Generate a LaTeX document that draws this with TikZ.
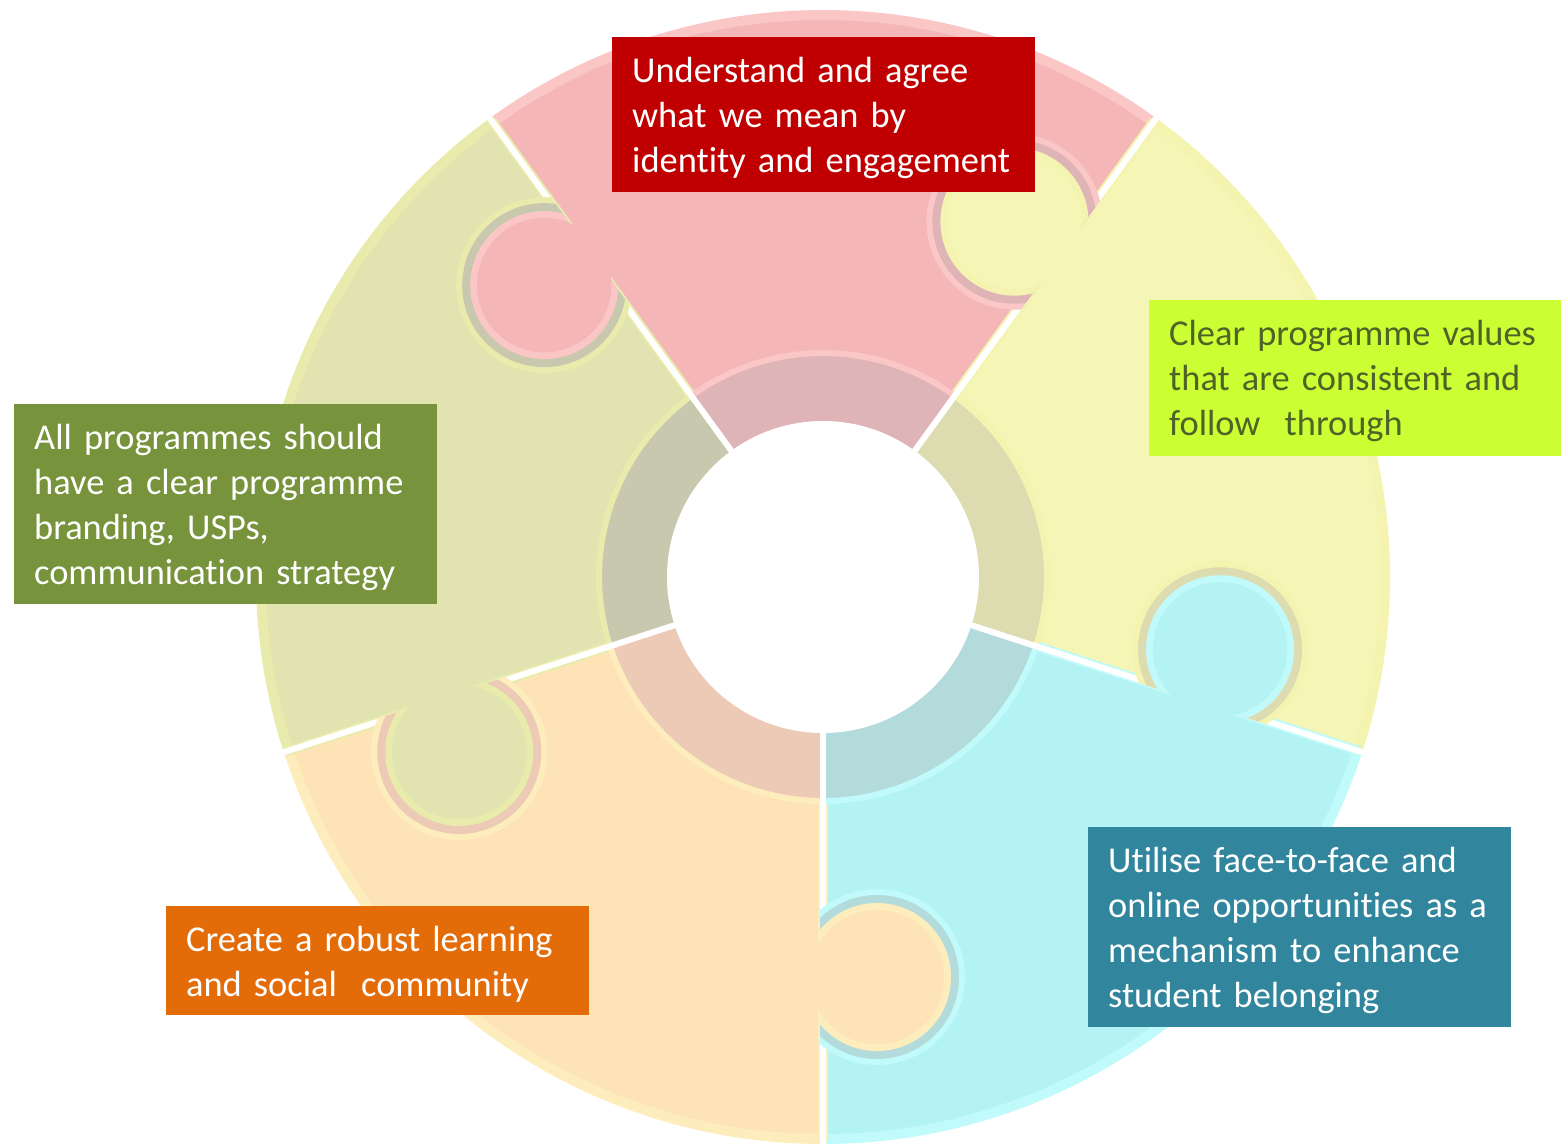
\documentclass[tikz,border=0pt]{standalone}
\usepackage{fontspec}
\setmainfont{Carlito}[Ligatures=NoCommon]
\definecolor{pinkF}{RGB}{244,182,182}
\definecolor{pinkB}{RGB}{250,198,198}
\definecolor{pinkD}{RGB}{222,180,183}
\definecolor{yelF}{RGB}{245,245,182}
\definecolor{yelB}{RGB}{244,244,176}
\definecolor{yelD}{RGB}{221,220,176}
\definecolor{cyaF}{RGB}{180,243,243}
\definecolor{cyaB}{RGB}{192,250,250}
\definecolor{cyaD}{RGB}{180,219,220}
\definecolor{oraF}{RGB}{253,227,182}
\definecolor{oraB}{RGB}{254,237,188}
\definecolor{oraD}{RGB}{236,202,181}
\definecolor{oliF}{RGB}{225,227,176}
\definecolor{oliB}{RGB}{233,235,172}
\definecolor{oliD}{RGB}{200,200,174}
\definecolor{redbox}{RGB}{192,0,0}
\definecolor{limebox}{RGB}{204,255,51}
\definecolor{limetext}{RGB}{79,98,40}
\definecolor{greenbox}{RGB}{119,147,60}
\definecolor{orangebox}{RGB}{227,108,9}
\definecolor{tealbox}{RGB}{49,133,156}
\tikzset{
  boxr/.style={rectangle, inner sep=0pt, anchor=north west},
  txt/.style={anchor=north west, inner sep=0pt, text width=410pt, align=left,
              font=\fontsize{36.4}{45}\selectfont}
}
\begin{document}
\begin{tikzpicture}[x=1pt,y=-1pt]
\useasboundingbox (0,0) rectangle (1561,1144);
\begin{scope}[shift={(823,577)}, y=1pt]
  % pieces
  \foreach \a/\fc/\bc in {54/pinkF/pinkB, -18/yelF/yelB, -90/cyaF/cyaB, 198/oraF/oraB, 126/oliF/oliB} {
    \filldraw[fill=\fc, draw=\bc, line width=10pt, line join=round]
      (\a:150) -- (\a:562) arc[start angle=\a, end angle=\a+72, radius=562]
      -- (\a+72:150) arc[start angle=\a+72, end angle=\a, radius=150] -- cycle;
  }
  % inner darker band
  \foreach \a/\dc/\bc in {54/pinkD/pinkB, -18/yelD/yelB, -90/cyaD/cyaB, 198/oraD/oraB, 126/oliD/oliB} {
    \fill[\dc] (\a:150) -- (\a:224) arc[start angle=\a, end angle=\a+72, radius=224]
      -- (\a+72:150) arc[start angle=\a+72, end angle=\a, radius=150] -- cycle;
    \draw[\bc, line width=6pt] (\a:224) arc[start angle=\a, end angle=\a+72, radius=224];
  }
  % gaps
  \foreach \a in {54,126,198,270,-18} {
    \draw[white, line width=6pt] (0,0) -- (\a:600);
  }
  % knobs and sockets
  \foreach \e/\of/\ob/\hb/\hd in {126/pinkF/pinkB/oliB/oliD, 54/yelF/yelB/pinkB/pinkD,
      -18/cyaF/cyaB/yelB/yelD, 270/oraF/oraB/cyaB/cyaD, 198/oliF/oliB/oraB/oraD} {
    \begin{scope}[rotate=\e]
      \begin{scope}
        \clip (0,-3) rectangle (700,200);
        \fill[\hb] (400,54) circle (88);
        \fill[\hd] (400,54) circle (82);
        \fill[\ob] (400,54) circle (74);
        \fill[\of] (400,54) circle (67);
      \end{scope}
      \fill[\of] (400,54) circle (67);
    \end{scope}
  }
  \fill[white] (0,0) circle (156);
\end{scope}
% text boxes
\node[boxr, fill=redbox, minimum width=423pt, minimum height=155pt] (b1) at (612,37) {};
\node[txt, text=white] (t1) at (632,52) {\rule{0pt}{30pt}Understand and agree\\what we mean by\\identity and engagement};
\node[boxr, fill=limebox, minimum width=412pt, minimum height=156pt] (b2) at (1149,300) {};
\node[txt, text=limetext] (t2) at (1169,315) {\rule{0pt}{30pt}Clear programme values\\that are consistent and\\follow~ through};
\node[boxr, fill=greenbox, minimum width=423pt, minimum height=200pt] (b3) at (14,404) {};
\node[txt, text=white] (t3) at (34,419) {\rule{0pt}{30pt}All programmes should\\have a clear programme\\branding, USPs,\\communication strategy};
\node[boxr, fill=orangebox, minimum width=423pt, minimum height=109pt] (b4) at (166,906) {};
\node[txt, text=white] (t4) at (186,921) {\rule{0pt}{30pt}Create a robust learning\\and social~ community};
\node[boxr, fill=tealbox, minimum width=423pt, minimum height=200pt] (b5) at (1088,827) {};
\node[txt, text=white] (t5) at (1108,842) {\rule{0pt}{30pt}Utilise face-to-face and\\online opportunities as a\\mechanism to enhance\\student belonging};
\end{tikzpicture}
\end{document}
